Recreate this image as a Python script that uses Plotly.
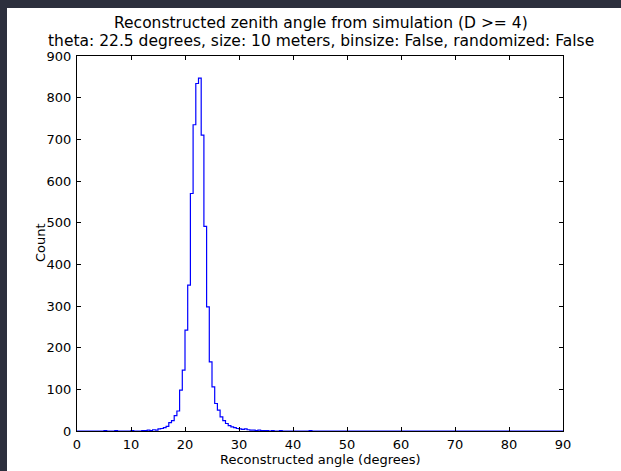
import plotly.graph_objects as go

# Histogram data: 0.5-degree bins from 0 to 90 degrees (counts per bin)
bin_width = 0.5
bin_start = 0.0
counts = [
    0, 0, 0, 0, 0, 0, 0, 0, 0, 0,              # 0.0 - 4.5
    1, 0, 0, 0, 1, 0, 0, 0, 0, 0,              # 5.0 - 9.5
    1, 0, 0, 0, 1, 1, 2, 1, 3, 2,              # 10.0 - 14.5
    5, 6, 8, 11, 20, 25, 37, 48, 98, 146,      # 15.0 - 19.5
    242, 350, 570, 735, 834, 847, 710, 491, 298, 166,  # 20.0 - 24.5
    106, 66, 50, 34, 25, 18, 13, 10, 8, 6,     # 25.0 - 29.5
    5, 4, 5, 3, 2, 2, 1, 2, 1, 1,              # 30.0 - 34.5
    1, 0, 1, 0, 0, 1, 0, 0, 0, 0,              # 35.0 - 39.5
    0, 0, 0, 0, 0, 0, 1, 0, 0, 0,              # 40.0 - 44.5
]
n_bins = 180
counts = counts + [0] * (n_bins - len(counts))
edges = [bin_start + i * bin_width for i in range(n_bins + 1)]

x_ticks = [0, 10, 20, 30, 40, 50, 60, 70, 80, 90]
y_ticks = [0, 100, 200, 300, 400, 500, 600, 700, 800, 900]

title_line1 = "Reconstructed zenith angle from simulation (D >= 4)"
title_line2 = "theta: 22.5 degrees, size: 10 meters, binsize: False, randomized: False"

# step outline like matplotlib histtype='step'
xs = [edges[0]] + edges[:-1] + [edges[-1], edges[-1]]
ys = [0] + counts + [counts[-1], 0]

fig = go.Figure()
fig.add_trace(go.Scatter(
    x=xs, y=ys, mode="lines", line=dict(color="#0000ff", width=1.2, shape="hv"),
    hoverinfo="skip", showlegend=False,
))

W, H = 621, 471
L, R, T, B = 77, 58, 56, 40
pw, ph = W - L - R, H - T - B

def px_x(p):
    return (p - L) / pw

def px_y(p):
    return (H - B - p) / ph

font = "DejaVu Sans, Verdana, sans-serif"

fig.update_layout(
    width=W, height=H,
    margin=dict(l=L, r=R, t=T, b=B, pad=0),
    paper_bgcolor="#2c2f3d",
    plot_bgcolor="white",
    font=dict(family=font, size=13, color="black"),
    shapes=[dict(type="rect", xref="paper", yref="paper", layer="below",
                 x0=px_x(7), x1=px_x(630), y0=px_y(480), y1=px_y(8),
                 fillcolor="white", line=dict(width=0))],
    annotations=[
        dict(text=title_line1, xref="paper", yref="paper", x=px_x(321), y=px_y(23),
             xanchor="center", yanchor="middle", showarrow=False, font=dict(size=15.5)),
        dict(text=title_line2, xref="paper", yref="paper", x=px_x(321), y=px_y(41),
             xanchor="center", yanchor="middle", showarrow=False, font=dict(size=15.5)),
        dict(text="Reconstructed angle (degrees)", xref="paper", yref="paper", x=px_x(320), y=px_y(459),
             xanchor="center", yanchor="middle", showarrow=False, font=dict(size=13)),
        dict(text="Count", xref="paper", yref="paper", x=px_x(40), y=px_y(243), textangle=-90,
             xanchor="center", yanchor="middle", showarrow=False, font=dict(size=13)),
    ],
)
fig.update_xaxes(
    range=[0, 90], tickvals=x_ticks, ticktext=[str(v) for v in x_ticks],
    showgrid=False, zeroline=False, showline=True, linecolor="black", linewidth=1,
    mirror="allticks", ticks="inside", ticklen=4, tickcolor="black", tickwidth=1,
    ticklabelstandoff=1, tickfont=dict(size=13),
)
fig.update_yaxes(
    range=[0, 900], tickvals=y_ticks, ticktext=[str(v) for v in y_ticks],
    showgrid=False, zeroline=False, showline=True, linecolor="black", linewidth=1,
    mirror="allticks", ticks="inside", ticklen=4, tickcolor="black", tickwidth=1,
    ticklabelstandoff=2, tickfont=dict(size=13),
)

fig.write_html("out.html")
